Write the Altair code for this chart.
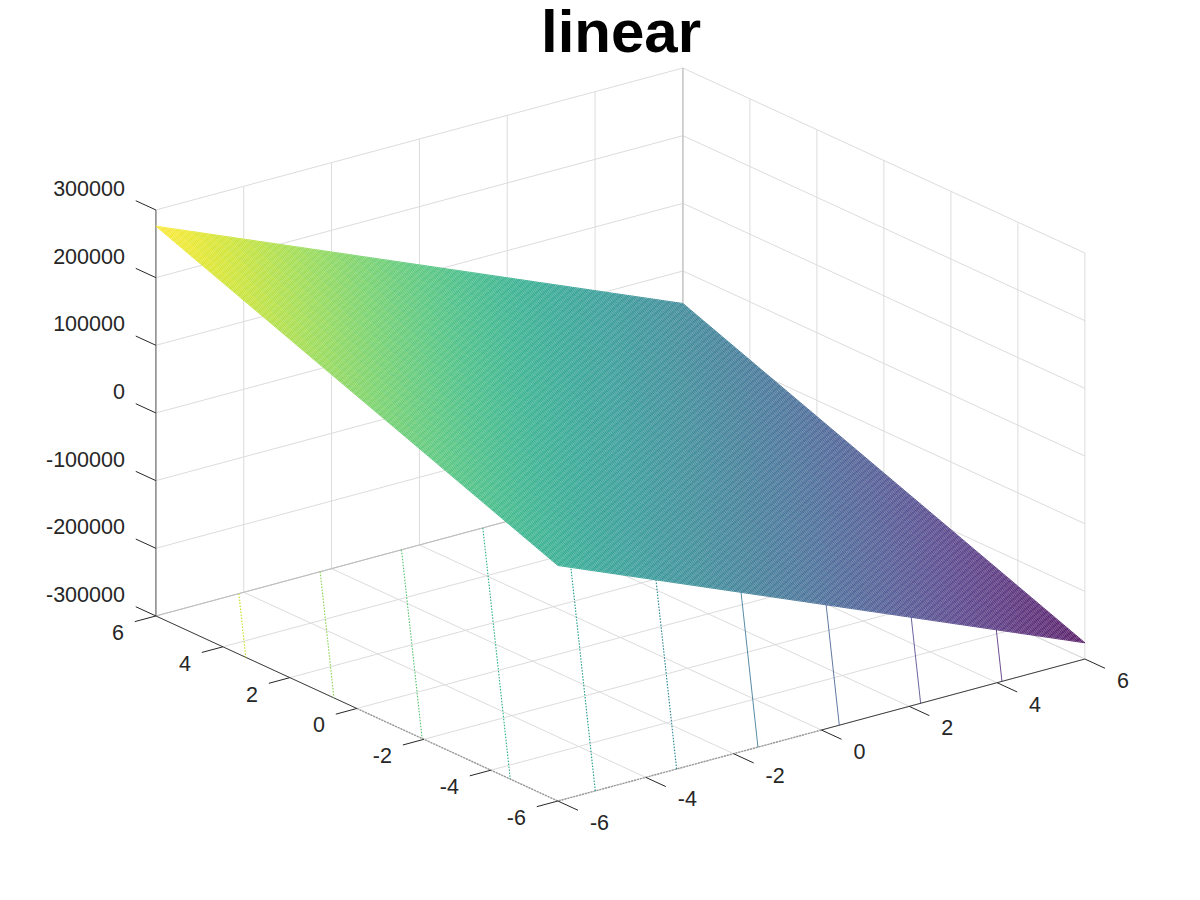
import numpy as np
import pandas as pd
import altair as alt

alt.data_transformers.disable_max_rows()

# ---- values
title_text = "linear"
z_ticks = [-300000, -200000, -100000, 0, 100000, 200000, 300000]
uv_ticks = [-6, -4, -2, 0, 2, 4, 6]
contour_levels_dotted = [225000, 175000, 125000, 75000, 25000, -25000]
contour_levels_solid = [-75000, -125000, -175000, -225000]
slope_u = -27000.0
slope_v = 19000.0
mesh_lines = 241
mesh_pieces = 30

# ---- view of the box (orthographic)
CX, CY = 620.4, 636.5
UX, UY = 43.92, -11.83
VX, VY = -33.5, -15.42
ZY = -406.0 / 600000.0


def px(u, v):
    return CX + UX * np.asarray(u, float) + VX * np.asarray(v, float)


def py(u, v, z):
    return CY + UY * np.asarray(u, float) + VY * np.asarray(v, float) + ZY * (np.asarray(z, float) + 300000)


def plane(u, v):
    return slope_u * np.asarray(u, float) + slope_v * np.asarray(v, float)


def seg(rows, u0, v0, z0, u1, v1, z1, **extra):
    rows.append(dict(x=float(px(u0, v0)), y=float(py(u0, v0, z0)),
                     x2=float(px(u1, v1)), y2=float(py(u1, v1, z1)), **extra))


ZMIN, ZMAX = z_ticks[0], z_ticks[-1]

xs = alt.Scale(domain=[8, 1188], zero=False, nice=False)
ys = alt.Scale(domain=[847, 7], zero=False, nice=False)
X = alt.X("x:Q", scale=xs, axis=None)
Y = alt.Y("y:Q", scale=ys, axis=None)
X2 = alt.X2("x2:Q")
Y2 = alt.Y2("y2:Q")
colz = alt.Color("z:Q", scale=alt.Scale(scheme="viridis", domain=[-276000, 276000], nice=False), legend=None)


def rules(rows, **mark):
    return alt.Chart(pd.DataFrame(rows)).mark_rule(**mark).encode(x=X, y=Y, x2=X2, y2=Y2)


# ---- grid
grid = []
for t in uv_ticks:
    seg(grid, t, -6, ZMIN, t, 6, ZMIN)       # floor
    seg(grid, -6, t, ZMIN, 6, t, ZMIN)       # floor
    seg(grid, t, 6, ZMIN, t, 6, ZMAX)        # back-left wall
    seg(grid, 6, t, ZMIN, 6, t, ZMAX)        # back-right wall
for t in z_ticks:
    seg(grid, -6, 6, t, 6, 6, t)
    seg(grid, 6, 6, t, 6, -6, t)
grid_layer = rules(grid, color="#dcdcdc", strokeWidth=1)

back = []
seg(back, 6, 6, ZMIN, 6, 6, ZMAX)
seg(back, -6, 6, ZMIN, 6, 6, ZMIN)
back_layer = rules(back, color="#bdbdbd", strokeWidth=1)

# ---- axes
zaxis = []
seg(zaxis, -6, 6, ZMIN, -6, 6, ZMAX)
zaxis_layer = rules(zaxis, color="#8c8c8c", strokeWidth=1.5)

solid_edge = []
seg(solid_edge, -6, 0, ZMIN, -6, 6, ZMIN)
seg(solid_edge, 0, -6, ZMIN, 6, -6, ZMIN)
solid_layer = rules(solid_edge, color="#404040", strokeWidth=1)

dot_edge = []
seg(dot_edge, -6, 0, ZMIN, -6, -6, ZMIN)
seg(dot_edge, 0, -6, ZMIN, -6, -6, ZMIN)
dot_layer = rules(dot_edge, color="#999999", strokeWidth=1.4, strokeDash=[2, 1])

ticks = []
for t in uv_ticks:
    seg(ticks, -6, t, ZMIN, -6.48, t, ZMIN)
    seg(ticks, t, -6, ZMIN, t, -6.6, ZMIN)
for t in z_ticks:
    seg(ticks, -6, 6, t, -6, 6.6, t)
tick_layer = rules(ticks, color="#262626", strokeWidth=1)


# ---- contours on the floor
def contour_rows(levels):
    rows = []
    for lev in levels:
        pts = []
        for v in (-6.0, 6.0):
            u = (lev - slope_v * v) / slope_u
            if -6 <= u <= 6:
                pts.append((u, v))
        for u in (-6.0, 6.0):
            v = (lev - slope_u * u) / slope_v
            if -6 <= v <= 6:
                pts.append((u, v))
        (u0, v0), (u1, v1) = pts[0], pts[1]
        seg(rows, u0, v0, ZMIN, u1, v1, ZMIN, z=lev)
    return rows


dotted_contours = rules(contour_rows(contour_levels_dotted), strokeWidth=1.1, strokeDash=[1.5, 1.5]).encode(color=colz)
solid_contours = rules(contour_rows(contour_levels_solid), strokeWidth=1, opacity=0.8).encode(color=colz)

# ---- white body of the surface (hides what lies behind it)
corner_u = np.array([-6, -6, 6, 6], float)
corner_v = np.array([6, -6, 6, -6], float)
cx = px(corner_u, corner_v)
cy = py(corner_u, corner_v, plane(corner_u, corner_v))
upper = np.interp(cx, [cx[0], cx[2], cx[3]], [cy[0], cy[2], cy[3]])
lower = np.interp(cx, [cx[0], cx[1], cx[3]], [cy[0], cy[1], cy[3]])
body = pd.DataFrame({"x": cx, "y": upper, "y2": lower}).sort_values("x")
body_layer = alt.Chart(body).mark_area(color="white", opacity=1, interpolate="linear").encode(x=X, y=Y, y2=Y2)

# ---- mesh
grid_line = np.linspace(-6, 6, mesh_lines)
steps = np.linspace(-6, 6, mesh_pieces + 1)
mesh = []
for g in grid_line:
    for a, b in zip(steps[:-1], steps[1:]):
        m = (a + b) / 2
        seg(mesh, g, a, plane(g, a), g, b, plane(g, b), z=float(plane(g, m)))
        seg(mesh, a, g, plane(a, g), b, g, plane(b, g), z=float(plane(m, g)))
mesh_layer = rules(mesh, strokeWidth=0.75).encode(color=colz)

# ---- labels
font = "Liberation Sans"
zl = pd.DataFrame({"x": px(-6, 6) * np.ones(7), "y": py(-6, 6, np.array(z_ticks)), "t": [str(t) for t in z_ticks]})
zl_layer = alt.Chart(zl).mark_text(font=font, fontSize=21.5, color="#262626", align="right", baseline="middle", dx=-31, dy=-20).encode(x=X, y=Y, text="t:N")

vl = pd.DataFrame({"x": px(-6, uv_ticks), "y": py(-6, uv_ticks, ZMIN), "t": [str(t) for t in uv_ticks]})
vl_layer = alt.Chart(vl).mark_text(font=font, fontSize=21.5, color="#262626", align="right", baseline="middle", dx=-32, dy=18).encode(x=X, y=Y, text="t:N")

ul = pd.DataFrame({"x": px(uv_ticks, -6), "y": py(uv_ticks, -6, ZMIN), "t": [str(t) for t in uv_ticks]})
ul_layer = alt.Chart(ul).mark_text(font=font, fontSize=21.5, color="#262626", align="left", baseline="middle", dx=32, dy=23).encode(x=X, y=Y, text="t:N")

title_layer = alt.Chart(pd.DataFrame({"x": [621.0], "y": [51.0], "t": [title_text]})).mark_text(
    font=font, fontSize=60, fontWeight="bold", color="black", align="center", baseline="alphabetic"
).encode(x=X, y=Y, text="t:N")

chart = alt.layer(
    grid_layer, back_layer, zaxis_layer, dot_layer, solid_layer, tick_layer,
    dotted_contours, solid_contours, body_layer, mesh_layer,
    zl_layer, vl_layer, ul_layer, title_layer,
).properties(width=1180, height=840, padding=0, background="white",
             autosize=alt.AutoSizeParams(type="none")).configure_view(stroke=None)

chart.save("out.html", embed_options={"renderer": "svg", "actions": False})
